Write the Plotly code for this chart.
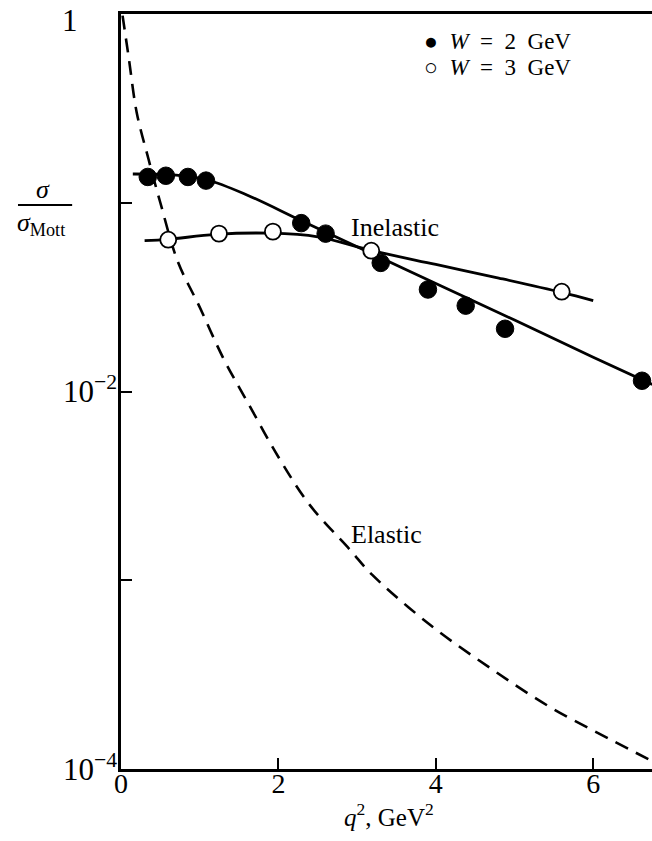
import math
import plotly.graph_objects as go

# ---- data ----
q2_w2 = [0.34, 0.57, 0.85, 1.08, 2.29, 2.60, 3.30, 3.90, 4.38, 4.88, 6.62]
ratio_w2 = [0.137, 0.139, 0.137, 0.131, 0.078, 0.0686, 0.048, 0.0347, 0.0285, 0.0215, 0.0114]

q2_w3 = [0.60, 1.245, 1.93, 3.18, 5.60]
ratio_w3 = [0.0637, 0.0686, 0.0703, 0.0557, 0.0338]

fit_w2_x = [0.15, 0.7, 1.1, 1.6, 2.3, 3.0, 4.0, 5.0, 6.0, 6.75]
fit_w2_y = [0.142, 0.140, 0.132, 0.110, 0.080, 0.0585, 0.0373, 0.0239, 0.0152, 0.0109]

fit_w3_x = [0.30, 0.6, 1.2, 1.9, 2.5, 3.2, 4.0, 4.8, 5.6, 6.0]
fit_w3_y = [0.063, 0.064, 0.068, 0.069, 0.066, 0.0556, 0.0471, 0.0399, 0.0335, 0.0303]

elastic_x = [0.02, 0.1, 0.2, 0.35, 0.5, 0.72, 1.0, 1.3, 1.6, 2.0, 2.4, 2.91, 3.19,
             3.93, 4.69, 5.45, 6.21, 6.75]
elastic_y = [0.98, 0.58, 0.30, 0.17, 0.10, 0.049, 0.028, 0.015, 0.0089, 0.0045, 0.0025,
             0.00145, 0.00107, 0.000579, 0.000343, 0.000213, 0.000144, 0.000110]

y_tickvals = [1e-4, 1e-3, 1e-2, 1e-1]
y_ticktext = ["10<sup>−4</sup>", "", "10<sup>−2</sup>", ""]
y_top_label = "1"
x_tickvals = [0, 2, 4, 6]
x_ticktext = ["0", "2", "4", "6"]

label_inelastic = ("Inelastic", 2.9, 0.0735)
label_elastic = ("Elastic", 2.9, 0.00174)

legend_w2 = "●  <i>W</i>  =  2  GeV"
legend_w3 = "○  <i>W</i>  =  3  GeV"

FONT = "Liberation Serif"

fig = go.Figure()

fig.add_trace(go.Scatter(x=elastic_x, y=elastic_y, mode="lines",
                         line=dict(color="black", width=2.6, dash="14px,9px", shape="spline"),
                         showlegend=False, hoverinfo="skip"))
fig.add_trace(go.Scatter(x=fit_w2_x, y=fit_w2_y, mode="lines",
                         line=dict(color="black", width=2.8, shape="spline"),
                         showlegend=False))
fig.add_trace(go.Scatter(x=fit_w3_x, y=fit_w3_y, mode="lines",
                         line=dict(color="black", width=2.8, shape="spline"),
                         showlegend=False))
fig.add_trace(go.Scatter(x=q2_w2, y=ratio_w2, mode="markers",
                         marker=dict(color="black", size=17.5, line=dict(color="black", width=1)),
                         name="W = 2 GeV", showlegend=False))
fig.add_trace(go.Scatter(x=q2_w3, y=ratio_w3, mode="markers",
                         marker=dict(color="white", size=16, line=dict(color="black", width=1.8)),
                         name="W = 3 GeV", showlegend=False))

# text labels (log axis: annotation y in log10 units)
for txt, lx, ly in (label_inelastic, label_elastic):
    fig.add_annotation(x=lx, y=math.log10(ly), xref="x", yref="y", text=txt, showarrow=False,
                       xanchor="left", yanchor="middle",
                       font=dict(family=FONT, size=26, color="black"))

# "1" label at the top of the y axis
fig.add_annotation(x=-0.096, y=0, xref="paper", yref="y", xanchor="center", yanchor="middle",
                   yshift=-6, text=y_top_label, showarrow=False,
                   font=dict(family=FONT, size=31, color="black"))

# legend as text
fig.add_annotation(x=0.5665, y=0.964, xref="paper", yref="paper", xanchor="left", yanchor="middle",
                   text=legend_w2, showarrow=False,
                   font=dict(family=FONT, size=23, color="black"))
fig.add_annotation(x=0.5665, y=0.929, xref="paper", yref="paper", xanchor="left", yanchor="middle",
                   text=legend_w3, showarrow=False,
                   font=dict(family=FONT, size=23, color="black"))

# y-axis title as a fraction
fig.add_annotation(x=-0.146, y=0.768, xref="paper", yref="paper", xanchor="center", yanchor="middle",
                   text="<i>σ</i>", showarrow=False, font=dict(family=FONT, size=26, color="black"))
fig.add_annotation(x=-0.150, y=0.722, xref="paper", yref="paper", xanchor="center", yanchor="middle",
                   text="<i>σ</i><sub>Mott</sub>", showarrow=False, font=dict(family=FONT, size=26, color="black"))
fig.add_shape(type="line", xref="paper", yref="paper", x0=-0.194, x1=-0.092, y0=0.747, y1=0.747,
              line=dict(color="black", width=2))

# x-axis title
fig.add_annotation(x=0.505, y=-0.061, xref="paper", yref="paper", xanchor="center", yanchor="middle",
                   text="<i>q</i><sup>2</sup>, GeV<sup>2</sup>", showarrow=False,
                   font=dict(family=FONT, size=25, color="black"))

fig.update_xaxes(range=[0, 6.747], tickvals=x_tickvals, ticktext=x_ticktext,
                 ticks="inside", ticklen=11, tickwidth=2, tickcolor="black",
                 showline=True, linecolor="black", linewidth=2.5, mirror=True,
                 showgrid=False, zeroline=False, ticklabelstandoff=-12,
                 tickfont=dict(family=FONT, size=28, color="black"))
fig.update_yaxes(type="log", range=[-4, 0], tickvals=y_tickvals, ticktext=y_ticktext,
                 ticks="inside", ticklen=11, tickwidth=2, tickcolor="black",
                 showline=True, linecolor="black", linewidth=2.5, mirror=False,
                 showgrid=False, zeroline=False, ticklabelstandoff=-5,
                 tickfont=dict(family=FONT, size=31, color="black"))

fig.update_layout(width=652, height=841, margin=dict(l=121, r=0, t=14, b=72),
                  plot_bgcolor="white", paper_bgcolor="white", showlegend=False)

fig.write_html("out.html", config={"displayModeBar": False},
               post_script="document.body.style.margin='0px';")
